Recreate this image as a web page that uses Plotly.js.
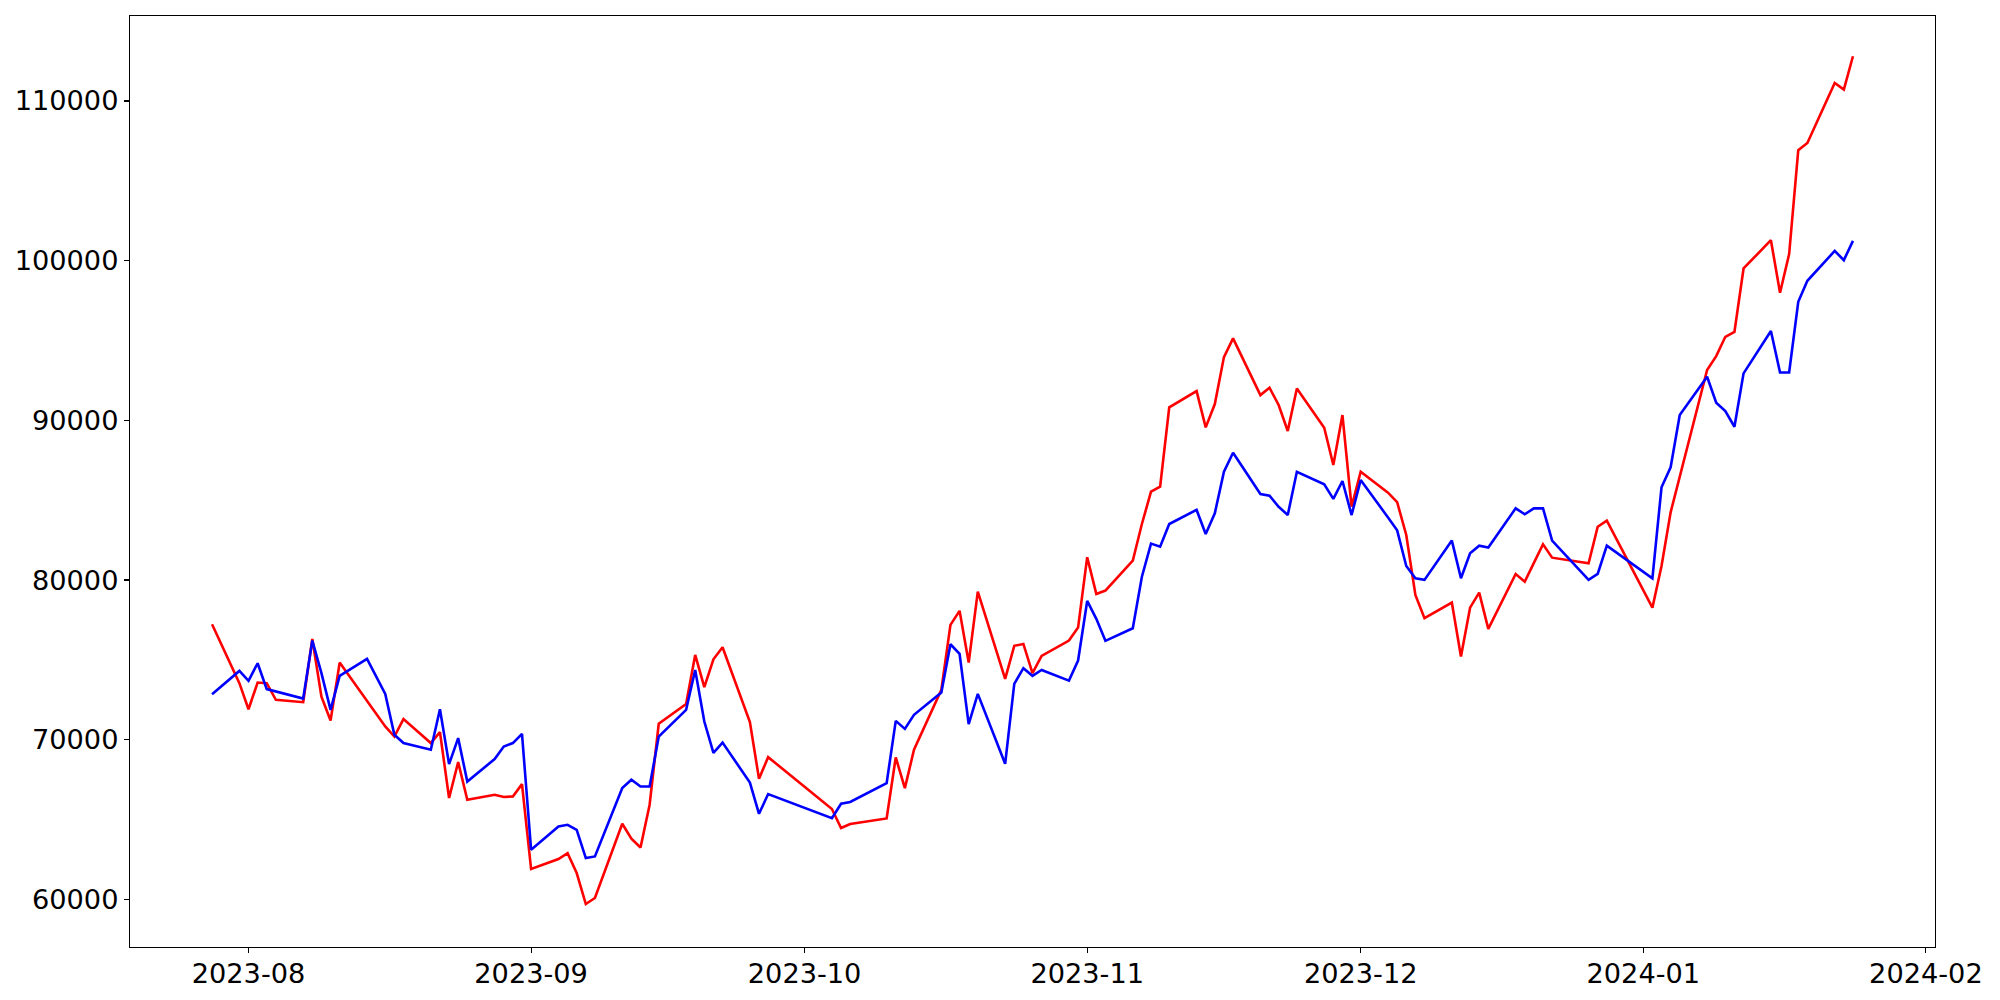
<!DOCTYPE html>
<html>
<head>
<meta charset="utf-8">
<script src="https://cdn.plot.ly/plotly-3.0.1.min.js"></script>
<style>html,body{margin:0;padding:0;background:#fff;}#chart{width:2000px;height:1000px;}</style>
</head>
<body>
<div id="chart"></div>
<script>
const dates = [
"2023-07-28","2023-07-31","2023-08-01","2023-08-02","2023-08-03","2023-08-04","2023-08-07","2023-08-08","2023-08-09","2023-08-10","2023-08-11","2023-08-14","2023-08-16","2023-08-17","2023-08-18","2023-08-21","2023-08-22","2023-08-23","2023-08-24","2023-08-25","2023-08-28","2023-08-29","2023-08-30","2023-08-31",
"2023-09-01","2023-09-04","2023-09-05","2023-09-06","2023-09-07","2023-09-08","2023-09-11","2023-09-12","2023-09-13","2023-09-14","2023-09-15","2023-09-18","2023-09-19","2023-09-20","2023-09-21","2023-09-22","2023-09-25","2023-09-26","2023-09-27",
"2023-10-04","2023-10-05","2023-10-06","2023-10-10","2023-10-11","2023-10-12","2023-10-13","2023-10-16","2023-10-17","2023-10-18","2023-10-19","2023-10-20","2023-10-23","2023-10-24","2023-10-25","2023-10-26","2023-10-27","2023-10-30","2023-10-31",
"2023-11-01","2023-11-02","2023-11-03","2023-11-06","2023-11-07","2023-11-08","2023-11-09","2023-11-10","2023-11-13","2023-11-14","2023-11-15","2023-11-16","2023-11-17","2023-11-20","2023-11-21","2023-11-22","2023-11-23","2023-11-24","2023-11-27","2023-11-28","2023-11-29","2023-11-30",
"2023-12-01","2023-12-04","2023-12-05","2023-12-06","2023-12-07","2023-12-08","2023-12-11","2023-12-12","2023-12-13","2023-12-14","2023-12-15","2023-12-18","2023-12-19","2023-12-20","2023-12-21","2023-12-22","2023-12-26","2023-12-27","2023-12-28",
"2024-01-02","2024-01-03","2024-01-04","2024-01-05","2024-01-08","2024-01-09","2024-01-10","2024-01-11","2024-01-12","2024-01-15","2024-01-16","2024-01-17","2024-01-18","2024-01-19","2024-01-22","2024-01-23","2024-01-24"
];

const redSeries = [
77230,73540,71910,73580,73540,72500,72350,76310,72700,71200,74830,72450,70830,70200,71290,69790,70480,66350,68600,66240,66550,66410,66450,67220,
61900,62530,62900,61650,59710,60090,64740,63800,63250,65930,71000,72230,75310,73290,75040,75790,71100,67550,68910,
65660,64470,64720,65070,68890,66970,69370,73120,77190,78070,74830,79270,73810,75880,76000,74170,75250,76210,77020,
81430,79130,79340,81210,83510,85530,85850,90810,91830,89560,91020,93960,95130,91580,92040,90960,89330,92000,89540,87200,90330,84590,
86780,85470,84880,82820,79070,77610,78590,75210,78270,79210,76940,80380,79900,81070,82240,81400,81050,83340,83720,
78270,80880,84240,86500,93150,94020,95230,95540,99510,101280,97990,100410,106920,107370,111130,110710,112800
];

const blueSeries = [
72850,74310,73690,74790,73170,73020,72580,76210,74170,71870,74000,75060,72870,70310,69790,69370,71910,68470,70100,67380,68790,69570,69790,70370,
63110,64570,64670,64360,62590,62690,66970,67490,67070,67070,70200,71870,74370,71140,69180,69820,67320,65360,66600,
65090,65990,66100,67280,71180,70680,71560,72950,75980,75380,70980,72870,68490,73500,74480,74000,74370,73700,74960,
78690,77570,76190,76980,80210,82280,82090,83510,84390,82880,84180,86780,87970,85390,85280,84590,84070,86780,86000,85080,86200,84070,
86260,83920,83110,80880,80110,80010,82470,80110,81680,82150,82030,84490,84120,84490,84490,82470,80010,80380,82150,
80110,85810,87060,90330,92730,91100,90580,89600,92940,95590,93000,93000,97420,98740,100610,100030,101240
];

const yTicks = [60000,70000,80000,90000,100000,110000];
const xTicks = ["2023-08-01","2023-09-01","2023-10-01","2023-11-01","2023-12-01","2024-01-01","2024-02-01"];
const xTickText = ["2023-08","2023-09","2023-10","2023-11","2023-12","2024-01","2024-02"];

const traces = [
  {x: dates, y: redSeries, type: "scatter", mode: "lines", line: {color: "#ff0000", width: 2.6}, showlegend: false, hoverinfo: "skip"},
  {x: dates, y: blueSeries, type: "scatter", mode: "lines", line: {color: "#0000ff", width: 2.6}, showlegend: false, hoverinfo: "skip"}
];

const tickFont = {family: "DejaVu Sans, sans-serif", size: 27.2, color: "#000"};

const layout = {
  width: 2000, height: 1000,
  margin: {l: 130, r: 65, t: 16, b: 53, pad: 0},
  paper_bgcolor: "#fff", plot_bgcolor: "#fff",
  showlegend: false,
  xaxis: {
    type: "date",
    range: ["2023-07-19", "2024-02-02"],
    tickmode: "array", tickvals: xTicks, ticktext: xTickText,
    showgrid: false, zeroline: false,
    showline: true, mirror: true, linecolor: "#000", linewidth: 1.1,
    ticks: "outside", ticklen: 5, tickwidth: 1.1, tickcolor: "#000",
    ticklabelstandoff: -3,
    tickfont: tickFont
  },
  yaxis: {
    range: [57020, 115320],
    tickmode: "array", tickvals: yTicks, ticktext: yTicks.map(String),
    showgrid: false, zeroline: false,
    showline: true, mirror: true, linecolor: "#000", linewidth: 1.1,
    ticks: "outside", ticklen: 5, tickwidth: 1.1, tickcolor: "#000",
    tickfont: tickFont
  }
};

Plotly.newPlot("chart", traces, layout, {staticPlot: true, displayModeBar: false});
</script>
</body>
</html>
